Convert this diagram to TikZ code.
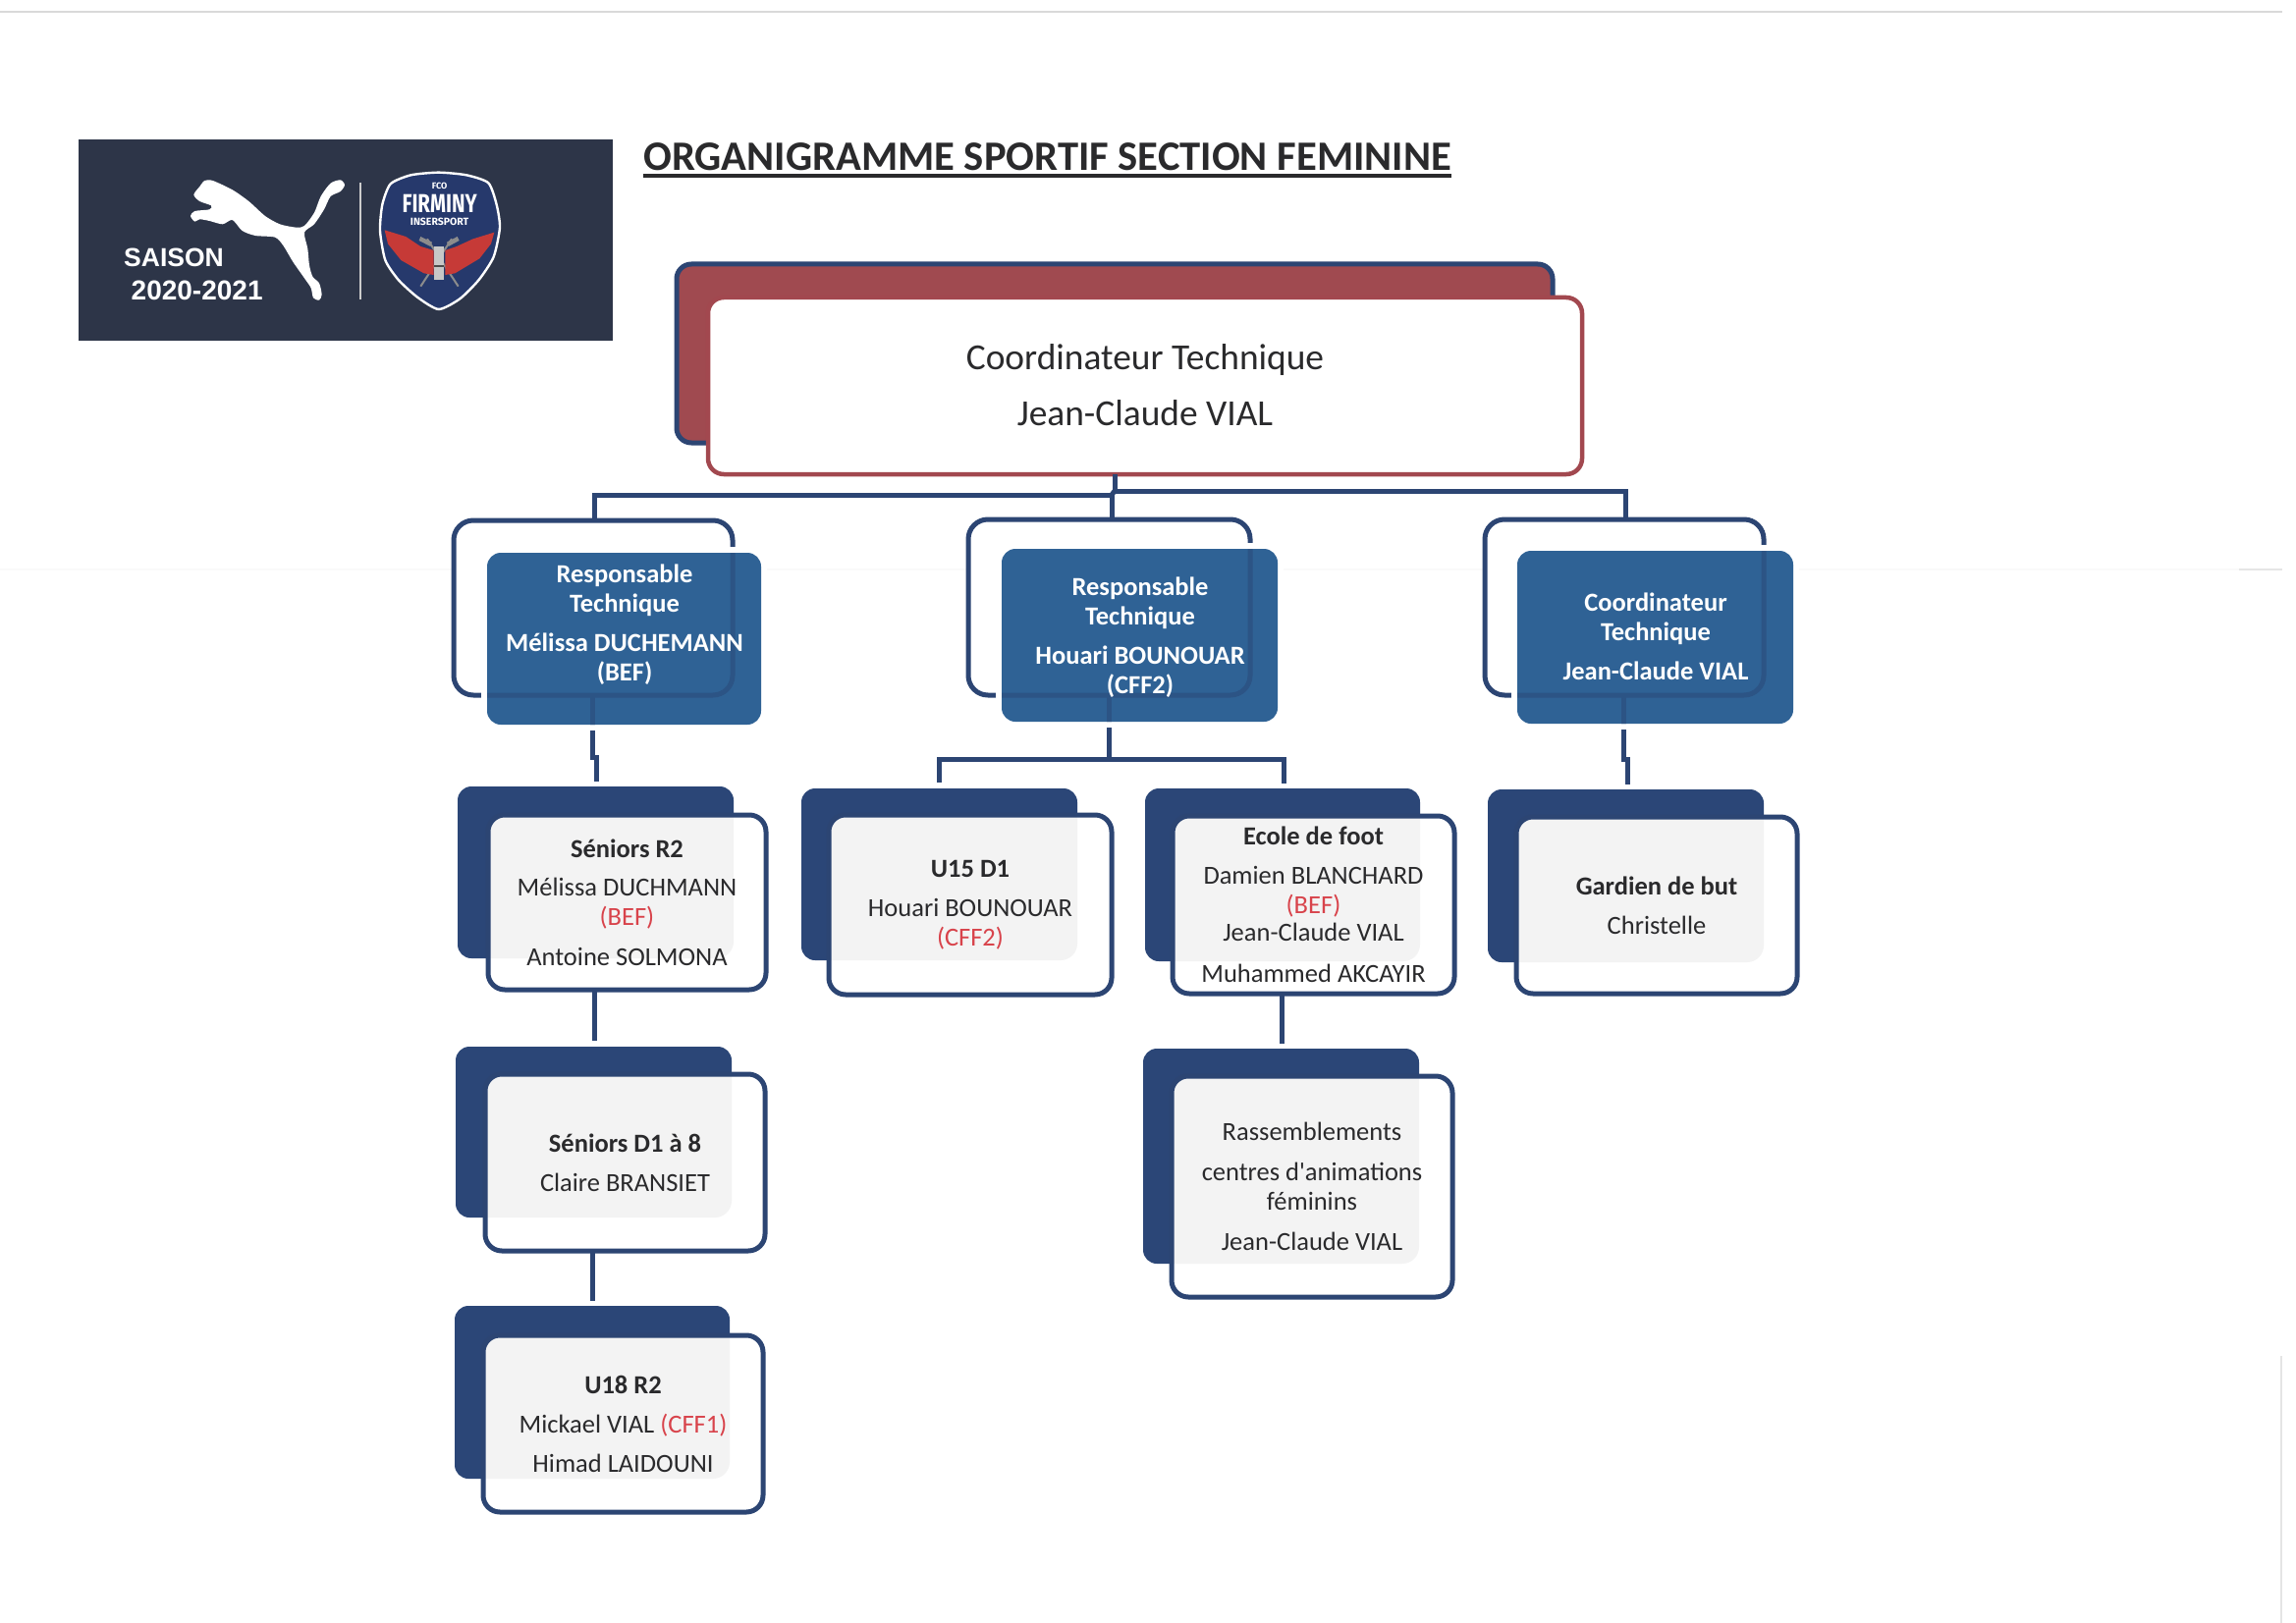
\documentclass[tikz,border=0pt]{standalone}
\usepackage{fontspec}
\usepackage{graphicx}
\setmainfont{Carlito}[Ligatures=TeXOff]
\newfontfamily\arialf{Liberation Sans}
\newfontfamily\firaf{Fira Sans}
\definecolor{navy}{HTML}{2B4677}
\definecolor{navyline}{HTML}{2C4573}
\definecolor{bluefill}{HTML}{2F6295}
\definecolor{bluedark}{HTML}{2C5485}
\definecolor{redback}{HTML}{A04A50}
\definecolor{redline}{HTML}{A2484F}
\definecolor{slate}{HTML}{2D3548}
\definecolor{ink}{HTML}{2A2A2C}
\definecolor{redtxt}{HTML}{D8434B}
\definecolor{overlap}{HTML}{F3F3F3}
\definecolor{shieldblue}{HTML}{26396C}
\definecolor{shieldred}{HTML}{C63A37}
\newcommand{\fs}[2]{\fontsize{#1}{#2}\selectfont}
\newcommand{\rd}[1]{\textcolor{redtxt}{#1}}
% name, style, x1, y1, x2, y2, text
\newcommand{\boxat}[7]{\node[#2, minimum width=(#5-#3)*1pt, minimum height=(#6-#4)*1pt] (#1) at ({(#3+#5)/2},{(#4+#6)/2}) {#7};}
\tikzset{
  anybox/.style={inner sep=0pt, outer sep=0pt, rectangle},
  backcard/.style={anybox, fill=navy, rounded corners=14pt},
  frontcard/.style={anybox, draw=navyline, line width=5pt, fill=white, rounded corners=17pt, align=center, text=ink, font=\fs{26.5}{30},
    path picture={\fill[overlap] (#1.south west) rectangle (#1.north east);}},
  outlinebox/.style={anybox, draw=navyline, line width=5pt, fill=white, rounded corners=20pt},
  halobox/.style={anybox, fill=white, rounded corners=14pt},
  bluebox/.style={anybox, fill=bluefill, rounded corners=14pt},
  bluetext/.style={inner sep=0pt, align=center, text=white, font=\bfseries\fs{26.5}{30}},
  conn/.style={draw=navyline, line width=5pt},
  ghost/.style={draw=bluedark, line width=5pt},
  scanline/.style={line width=1.2pt},
}
\begin{document}
\begin{tikzpicture}[x=1pt,y=-1pt]
\useasboundingbox (0,0) rectangle (2338,1653);
\fill[white] (0,0) rectangle (2338,1653);
% scan marks
\draw[scanline, draw=black!15] (0,12) -- (2324,12);
\draw[scanline, draw=black!2] (0,580) -- (2324,580);
\draw[scanline, draw=black!10] (2280,580) -- (2324,580);
\draw[scanline, draw=black!10] (2323,1381) -- (2323,1653);

% logo
\fill[slate] (80,142) rectangle (624,347);
\begin{scope}[shift={(170,160)},x=0.3333pt,y=-0.3333pt]
\fill[white] plot[smooth cycle, tension=.45] coordinates {(115,72) (140,72) (200,100) (250,135) (300,180) (345,205) (395,215) (420,210) (450,170) (470,120) (500,80) (530,70) (543,85) (530,105) (500,120) (480,160) (450,205) (420,230) (430,280) (435,330) (445,365) (465,385) (473,420) (465,437) (447,430) (440,400) (420,370) (385,320) (355,270) (330,245) (270,240) (230,225) (200,192) (170,205) (130,195) (100,190) (85,197) (72,180) (85,165) (130,160) (135,148) (100,135) (82,115) (100,90)};
\end{scope}
\draw[line width=2.5pt, draw=black!20] (367,186) -- (367,305);
\node[anchor=base west, inner sep=0pt, text=white, font=\arialf\bfseries\fs{26.5}{30}] (saison) at (126,272) {SAISON};
\node[anchor=base west, inner sep=0pt, text=white, font=\arialf\bfseries\fs{28}{30}] (annee) at (133.5,306) {2020-2021};
\begin{scope}[shift={(375,165)},x=0.3333pt,y=-0.3333pt]
\path[fill=shieldblue, draw=white, line width=2.4pt] plot[smooth cycle, tension=.4] coordinates {(215,32) (300,40) (367,64) (392,130) (402,200) (383,290) (338,360) (280,418) (215,450) (150,413) (92,360) (52,300) (36,210) (43,130) (68,67) (130,40)};
\draw[line width=2pt, draw=black!45] (255,235) -- (160,380) (180,235) -- (275,380);
\fill[black!45] (160,228) -- (195,245) -- (190,258) -- (155,240) -- cycle;
\fill[black!45] (240,245) -- (272,228) -- (278,240) -- (245,258) -- cycle;
\fill[shieldred] (50,208) -- (115,228) -- (160,258) -- (200,270) -- (200,345) -- (170,340) -- (100,300) -- (60,250) -- cycle;
\fill[shieldred] (385,215) -- (320,235) -- (270,258) -- (235,270) -- (235,345) -- (265,340) -- (340,295) -- (375,250) -- cycle;
\fill[black!22] (200,258) rectangle (232,360);
\fill[black!70] (200,315) rectangle (232,322);
\node[inner sep=0pt, text=white, font=\firaf\bfseries\fs{9}{10}] (fco) at (218,72) {FCO};
\node[inner sep=0pt, text=white, font=\firaf\bfseries\fs{24}{26}] (firminy) at (218,128) {\scalebox{0.85}[1.1]{FIRMINY}};
\node[inner sep=0pt, text=white, font=\firaf\bfseries\fs{10.5}{12}] (insersport) at (218,182) {INSERSPORT};
\end{scope}

% title
\node[anchor=base west, inner sep=0pt, text=ink, font=\bfseries\fs{42.6}{46}] (titre) at (655,174) {ORGANIGRAMME SPORTIF SECTION FEMININE};
\draw[line width=3.5pt, draw=ink] ([yshift=-5pt]titre.base west) -- ([yshift=-5pt]titre.base east);

% top box
\boxat{topback}{anybox, draw=navyline, line width=5pt, fill=redback, rounded corners=15pt}{689}{269}{1581}{451}{}
\boxat{top}{anybox, draw=redline, line width=4.5pt, fill=white, rounded corners=16pt, align=center, text=ink, font=\fs{37.4}{57}}{721}{303}{1611}{483}{\raisebox{2.5pt}{Coordinateur Technique}\\\raisebox{2pt}{Jean-Claude VIAL}}

% second level frames
\boxat{o1}{outlinebox}{462}{530}{746}{708}{}
\boxat{o2}{outlinebox}{986}{529}{1273}{708}{}
\boxat{o3}{outlinebox}{1512}{529}{1796}{708}{}

% connectors under the top box
\coordinate (jR) at (1135,500);
\coordinate (jL) at (1132,504);
\coordinate (busR) at (1655,500);
\coordinate (busL) at (605,504);
\draw[conn] (jR |- top.south) -- (jR) -- (busR) -- (busR |- o3.north);
\draw[conn] (busL |- o1.north) -- (busL) -- (jL) -- (jL |- o2.north);
\draw[conn] (jR) -- (jL);

% blue boxes
\boxat{h1}{halobox}{490}{557}{781}{744}{}
\boxat{h2}{halobox}{1014}{553}{1307}{741}{}
\boxat{h3}{halobox}{1539}{555}{1832}{743}{}
\coordinate (s1) at (603,771);
\coordinate (s1b) at (607,771);
\coordinate (s2) at (1129,773);
\coordinate (s2L) at (956,773);
\coordinate (s2R) at (1307,773);
\coordinate (s3) at (1653,773);
\coordinate (s3b) at (1657,773);
\boxat{f1}{bluebox, path picture={\draw[ghost, rounded corners=20pt] (o1.south west) rectangle (o1.north east); \draw[ghost] (s1 |- o1.south) -- ++(0,40);}}{496}{563}{775}{738}{}
\boxat{f2}{bluebox, path picture={\draw[ghost, rounded corners=20pt] (o2.south west) rectangle (o2.north east); \draw[ghost] (s2 |- o2.south) -- ++(0,40);}}{1020}{559}{1301}{735}{}
\boxat{f3}{bluebox, path picture={\draw[ghost, rounded corners=20pt] (o3.south west) rectangle (o3.north east); \draw[ghost] (s3 |- o3.south) -- ++(0,40);}}{1545}{561}{1826}{737}{}
\node[bluetext] (r1) at (636,636) {Responsable\\Technique\\[10pt]Mélissa DUCHEMANN\\(BEF)};
\node[bluetext] (r2) at (1161,649) {Responsable\\Technique\\[10pt]Houari BOUNOUAR\\(CFF2)};
\node[bluetext] (r3) at (1686,648) {Coordinateur\\Technique\\[10pt]Jean-Claude VIAL};

% cards
\boxat{b1}{backcard}{466}{801}{747}{976}{}
\boxat{c1}{frontcard=b1}{497}{830}{780}{1008}{\textbf{Séniors R2}\\[9pt]Mélissa DUCHMANN\\\rd{(BEF)}\\[11pt]Antoine SOLMONA}
\boxat{b2}{backcard}{464}{1066}{745}{1240}{}
\boxat{c2}{frontcard=b2}{494}{1094}{779}{1274}{\textbf{Séniors D1 à 8}\\[10pt]Claire BRANSIET}
\boxat{b3}{backcard}{463}{1330}{743}{1506}{}
\boxat{c3}{frontcard=b3}{492}{1360}{777}{1540}{\textbf{U18 R2}\\[10pt]Mickael VIAL \rd{(CFF1)}\\[10pt]Himad LAIDOUNI}
\boxat{b4}{backcard}{816}{803}{1097}{978}{}
\boxat{c4}{frontcard=b4}{844}{830}{1132}{1013}{\textbf{U15 D1}\\[10pt]Houari BOUNOUAR\\\rd{(CFF2)}}
\boxat{b5}{backcard}{1166}{803}{1446}{979}{}
\boxat{c5}{frontcard=b5}{1194}{831}{1481}{1012}{\textbf{Ecole de foot}\\[10pt]Damien BLANCHARD\\\rd{(BEF)}\\[-2pt]Jean-Claude VIAL\\[12pt]Muhammed AKCAYIR}
\boxat{b6}{backcard}{1164}{1068}{1445}{1287}{}
\boxat{c6}{frontcard=b6}{1193}{1096}{1479}{1321}{Rassemblements\\[11pt]centres d'animations\\féminins\\[11pt]Jean-Claude VIAL}
\boxat{b7}{backcard}{1515}{804}{1796}{980}{}
\boxat{c7}{frontcard=b7}{1544}{832}{1830}{1012}{\textbf{Gardien de but}\\[10pt]Christelle}

% lower connectors
\coordinate (x1) at (605,0);
\coordinate (x2) at (603,0);
\coordinate (x5) at (1305,0);
\draw[conn] ([yshift=-6pt]s1 |- f1.south) -- (s1) -- (s1b) -- ([yshift=5pt]s1b |- b1.north);
\draw[conn] ([yshift=-6pt]s2 |- f2.south) -- (s2);
\draw[conn] ([yshift=6pt]s2L |- b4.north) -- (s2L) -- (s2R) -- ([yshift=5pt]s2R |- b5.north);
\draw[conn] ([yshift=-6pt]s3 |- f3.south) -- (s3) -- (s3b) -- ([yshift=5pt]s3b |- b7.north);
\draw[conn] (x1 |- c1.south) -- ([yshift=6pt]x1 |- b2.north);
\draw[conn] (x2 |- c2.south) -- ([yshift=5pt]x2 |- b3.north);
\draw[conn] (x5 |- c5.south) -- ([yshift=5pt]x5 |- b6.north);
\end{tikzpicture}
\end{document}
